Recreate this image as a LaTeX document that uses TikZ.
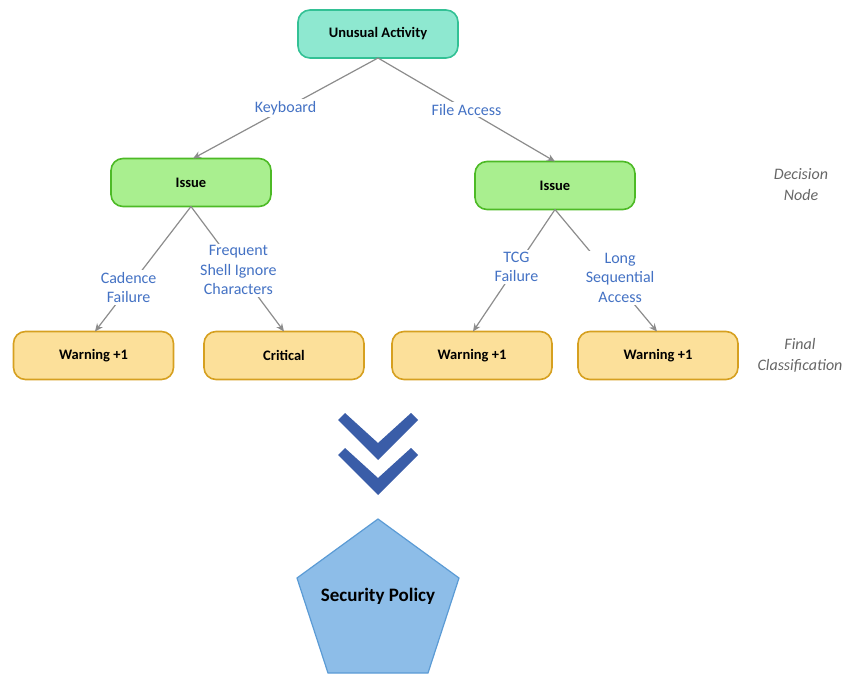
\documentclass[tikz,border=0pt]{standalone}
\usepackage{fontspec}
\setmainfont{Carlito}
\usetikzlibrary{arrows.meta,shapes.geometric}
\definecolor{tealfill}{HTML}{8EE8D0}
\definecolor{tealdraw}{HTML}{33C195}
\definecolor{greenfill}{HTML}{A9EF8F}
\definecolor{greendraw}{HTML}{4DBA26}
\definecolor{yelfill}{HTML}{FCE09A}
\definecolor{yeldraw}{HTML}{D6A020}
\definecolor{pentfill}{HTML}{8DBDE8}
\definecolor{pentdraw}{HTML}{5B9BD5}
\definecolor{chev}{HTML}{3A5DA8}
\definecolor{lblue}{HTML}{4472C4}
\definecolor{edgegray}{HTML}{8C8C8C}
\definecolor{sidegray}{HTML}{666666}
\tikzset{
  box/.style={rounded corners=12pt, line width=1.6pt, minimum width=160pt, minimum height=48pt, font=\fontsize{14.5}{17}\selectfont\bfseries, inner sep=0pt},
  topbox/.style={box, fill=tealfill, draw=tealdraw},
  issuebox/.style={box, fill=greenfill, draw=greendraw},
  classbox/.style={box, fill=yelfill, draw=yeldraw},
  conn/.style={draw=edgegray, line width=1.2pt, -{Stealth[length=8pt,width=7pt]}},
  elabel/.style={fill=white, text=lblue, font=\fontsize{16}{19.5}\selectfont, align=center, inner sep=2pt},
  sidelabel/.style={text=sidegray, font=\fontsize{16}{21}\selectfont\itshape, align=center},
  chevron/.style={fill=chev, draw=none}
}
\begin{document}
\begin{tikzpicture}[x=1pt,y=-1pt]
\useasboundingbox (0,0) rectangle (844,674);
\node[topbox] (ua) at (378,34) {Unusual Activity};
\node[issuebox] (i1) at (191,182.5) {Issue};
\node[issuebox] (i2) at (555,185.5) {Issue};
\node[classbox] (w1) at (93.5,355.5) {Warning +1};
\node[classbox] (cr) at (284,355.5) {Critical};
\node[classbox] (w3) at (472,355.5) {Warning +1};
\node[classbox] (w4) at (658,355.5) {Warning +1};
\node[sidelabel] (dn) at (801,185) {Decision\\Node};
\node[sidelabel] (fc) at (800,355) {Final\\Classification};
\coordinate (uab) at (378,58);
\coordinate (i1t) at (193,158.5);
\coordinate (i2t) at (555,161.5);
\coordinate (i1b) at (191,206.5);
\coordinate (i2b) at (555,209.5);
\coordinate (w1t) at (95,331.5);
\coordinate (crt) at (284,331.5);
\coordinate (w3t) at (473,331.5);
\coordinate (w4t) at (657,331.5);
\draw[conn] (uab) -- node[elabel, pos=0.5] {Keyboard} (i1t);
\draw[conn] (uab) -- node[elabel, pos=0.5] {File Access} (i2t);
\draw[conn] (i1b) -- node[elabel, pos=0.65] {Cadence\\Failure} (w1t);
\draw[conn] (i1b) -- node[elabel, pos=0.51] {Frequent\\Shell Ignore\\Characters} (crt);
\draw[conn] (i2b) -- node[elabel, pos=0.47] {TCG\\Failure} (w3t);
\draw[conn] (i2b) -- node[elabel, pos=0.56, xshift=8pt] {Long\\Sequential\\Access} (w4t);
\fill[chevron] (338,420) -- (345,413) -- (378,443) -- (411,413) -- (418,420) -- (378,460) -- cycle;
\fill[chevron] (338,455) -- (345,448) -- (378,478) -- (411,448) -- (418,455) -- (378,495) -- cycle;
\draw[fill=pentfill, draw=pentdraw, line width=1.2pt] (378,519) -- (459,578) -- (428,673) -- (328,673) -- (297,578) -- cycle;
\node[font=\fontsize{19}{22}\selectfont\bfseries] (sp) at (378,596) {Security Policy};
\end{tikzpicture}
\end{document}
